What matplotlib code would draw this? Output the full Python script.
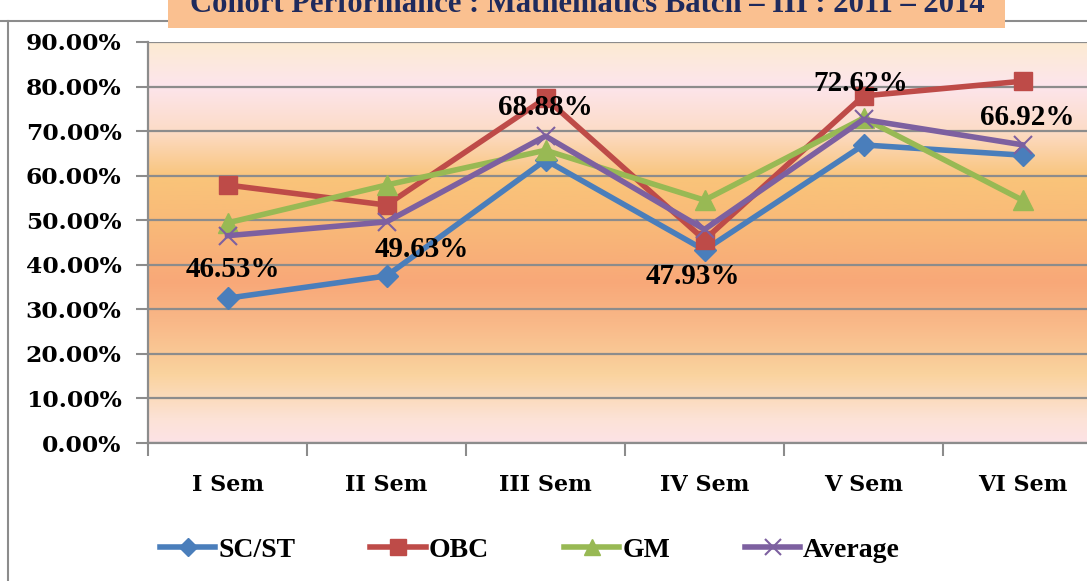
import matplotlib
matplotlib.use("Agg")
import matplotlib.pyplot as plt
import numpy as np
from matplotlib.colors import LinearSegmentedColormap
from matplotlib.ticker import FuncFormatter
from matplotlib.patches import Rectangle
from matplotlib.lines import Line2D

categories = ["I Sem", "II Sem", "III Sem", "IV Sem", "V Sem", "VI Sem"]
sc_st = [32.5, 37.5, 63.5, 43.3, 66.9, 64.6]
obc = [57.9, 53.4, 77.4, 45.6, 77.9, 81.2]
gm = [49.4, 57.9, 65.7, 54.5, 72.9, 54.5]
average = [46.53, 49.63, 68.88, 47.93, 72.62, 66.92]
yticks = [0, 10, 20, 30, 40, 50, 60, 70, 80, 90]
title = "Cohort Performance : Mathematics Batch \u2013 III : 2011 \u2013 2014"

W, H = 1087, 581
fig = plt.figure(figsize=(W / 100, H / 100), dpi=100)
fig.patch.set_facecolor("white")

# outer chart border
fig.add_artist(Line2D([0, 1], [1 - 21 / H, 1 - 21 / H], color="#8C8C8C", lw=1.5, transform=fig.transFigure))
fig.add_artist(Line2D([8 / W, 8 / W], [0, 1 - 21 / H], color="#8C8C8C", lw=1.5, transform=fig.transFigure))

ax = fig.add_axes([148 / W, 1 - 443 / H, 954 / W, 401 / H])
ax.set_xlim(-0.5, 5.5)
ax.set_ylim(0, 90)

# gradient background
stops = [(0.0, "#FDE3E6"), (0.06, "#FCE2D6"), (0.17, "#FAD39E"), (0.30, "#F9B888"),
         (0.40, "#F8A878"), (0.55, "#F9BA78"), (0.66, "#F9C47A"), (0.78, "#FCDCC8"),
         (0.89, "#FDE5EC"), (1.0, "#FCEBD2")]
cmap = LinearSegmentedColormap.from_list("bg", stops)
grad = np.linspace(0, 1, 256).reshape(-1, 1)
ax.imshow(grad, extent=[-0.5, 5.5, 0, 90], origin="lower", aspect="auto", cmap=cmap, zorder=0)

for yv in yticks:
    ax.axhline(yv, color="#8C8C8C", lw=1.6, zorder=1)

x = np.arange(len(categories))
lw = 4
ax.plot(x, sc_st, color="#4A7EBB", lw=lw, marker="D", ms=11, zorder=3, label="SC/ST")
ax.plot(x, obc, color="#BE4B48", lw=lw, marker="s", ms=13, zorder=3, label="OBC")
ax.plot(x, gm, color="#98B954", lw=lw, marker="^", ms=14, zorder=3, label="GM")
ax.plot(x, average, color="#7D60A0", lw=lw, marker="x", ms=13, mew=1.5, zorder=4, label="Average")

offsets = [(5, -34), (35, -28), (0, 29), (-12, -47), (-3, 36), (5, 27)]
for xi, v, (dx, dy) in zip(x, average, offsets):
    ax.annotate(f"{v:.2f}%", (xi, v), xytext=(dx, dy), textcoords="offset pixels",
                ha="center", va="center", fontsize=21, fontweight="bold",
                family="Liberation Serif", color="black", zorder=6, annotation_clip=False)

ax.set_yticks(yticks)
ax.yaxis.set_major_formatter(FuncFormatter(lambda v, p: f"{v:.2f}%"))
ax.set_xticks(np.arange(-0.5, 6.0, 1.0), minor=False)
ax.set_xticklabels([])
ax.set_xticks(x, minor=True)
ax.set_xticklabels(categories, minor=True)
ax.tick_params(axis="x", which="major", length=9, width=1.5, color="#8C8C8C", direction="out")
ax.tick_params(axis="x", which="minor", length=0, pad=22)
ax.tick_params(axis="y", length=9, width=1.5, color="#8C8C8C", pad=10)
for lab in ax.get_yticklabels() + ax.get_xticklabels(minor=True):
    lab.set_family("DejaVu Serif")
    lab.set_fontweight("bold")
for lab in ax.get_yticklabels():
    lab.set_fontsize(16.8)
for lab in ax.get_xticklabels(minor=True):
    lab.set_fontsize(16)

for s in ["top", "right"]:
    ax.spines[s].set_visible(False)
for s in ["left", "bottom"]:
    ax.spines[s].set_color("#8C8C8C")
    ax.spines[s].set_linewidth(1.6)

# legend
leg = fig.legend(loc="center", bbox_to_anchor=(530 / W, 1 - 550 / H), ncol=4, frameon=False,
                 prop={"family": "Liberation Serif", "weight": "bold", "size": 20},
                 handlelength=2.0, columnspacing=2.7, handletextpad=0.1, markerscale=0.85)

# title box
fig.add_artist(Rectangle((168 / W, 1 - 28 / H), (1005 - 168) / W, 28 / H + 0.05,
                         transform=fig.transFigure, facecolor="#FAC090", edgecolor="none", zorder=5))
t = fig.text(587 / W, 1 - 12 / H, title, ha="center", va="baseline", fontsize=24,
             fontweight="bold", family="Liberation Serif", color="#1F2A5C", zorder=6)
fig.canvas.draw()
bb = t.get_window_extent()
t.set_fontsize(24 * 795 / bb.width)

fig.savefig("out.png", dpi=100)
